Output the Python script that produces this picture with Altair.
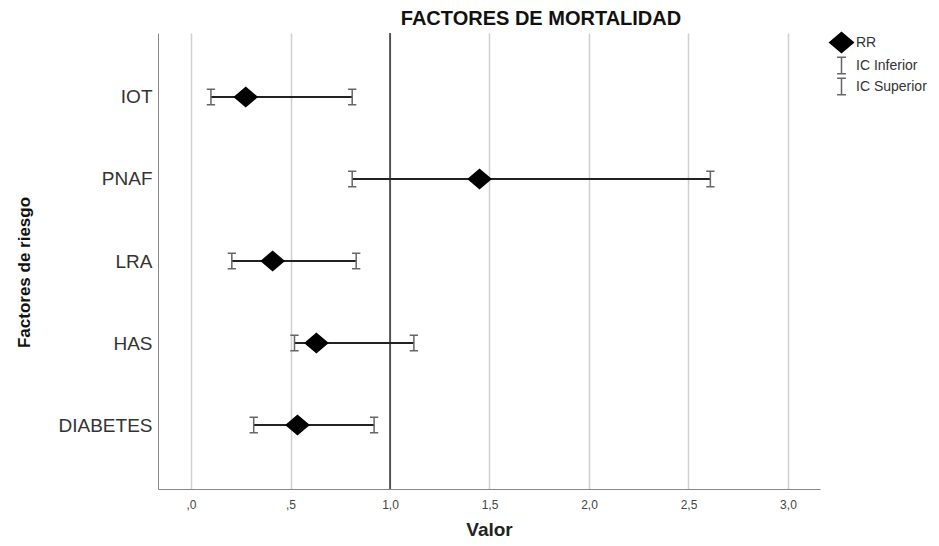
import altair as alt
import pandas as pd

# ---- data ----
factores = ["IOT", "PNAF", "LRA", "HAS", "DIABETES"]
rr = [0.275, 1.45, 0.41, 0.63, 0.535]
ic_inferior = [0.10, 0.81, 0.205, 0.52, 0.315]
ic_superior = [0.81, 2.61, 0.83, 1.12, 0.92]
series = ["RR", "IC Inferior", "IC Superior"]
x_ticks = [0, 0.5, 1.0, 1.5, 2.0, 2.5, 3.0]
ref_value = [1.0]

wide = pd.DataFrame({"factor": factores, "lo": ic_inferior, "hi": ic_superior})
rows = []
for f, a, b, c in zip(factores, ic_inferior, ic_superior, rr):
    rows.append({"factor": f, "serie": "IC Inferior", "valor": a})
    rows.append({"factor": f, "serie": "IC Superior", "valor": b})
    rows.append({"factor": f, "serie": "RR", "valor": c})
long = pd.DataFrame(rows)
ref = pd.DataFrame({"v": ref_value})

DIAMOND = "M-1.35,0L0,-1.15L1.35,0L0,1.15Z"
IBEAM = "M-0.5,-0.94L0.5,-0.94M0,-0.94L0,0.94M-0.5,0.94L0.5,0.94"

x_scale = alt.Scale(domain=[-0.166, 3.161], nice=False, zero=False)
x_axis = alt.Axis(
    values=x_ticks,
    labelExpr="datum.value < 1 ? ',' + substring(format(datum.value, '.1f'), 2) : replace(format(datum.value, '.1f'), '.', ',')",
    ticks=False,
    domainColor="#888888",
    gridColor="#d0d0d0",
    gridWidth=1.5,
    labelFontSize=12,
    labelColor="#444444",
    labelPadding=10,
    titleFontSize=19,
    titleFontWeight="bold",
    titleColor="#222222",
    titlePadding=10,
)
y_enc = alt.Y(
    "factor:N",
    sort=factores,
    scale=alt.Scale(type="point", domain=factores, padding=0.78),
    axis=alt.Axis(
        title="Factores de riesgo",
        ticks=False,
        grid=False,
        domainColor="#888888",
        labelFontSize=19,
        labelColor="#333333",
        labelPadding=6,
        titleFont="Liberation Sans",
        titleFontSize=17,
        titleFontWeight="bold",
        titleColor="#111111",
        titleX=-125,
        titleY=239,
    ),
)

legend = alt.Legend(title=None, symbolSize=306, rowPadding=-8.5)

ref_rule = alt.Chart(ref).mark_rule(color="black", strokeWidth=1.2).encode(
    x=alt.X("v:Q", scale=x_scale, axis=x_axis, title="Valor")
)

ci_rule = alt.Chart(wide).mark_rule(color="#222222", strokeWidth=2).encode(
    x=alt.X("lo:Q", scale=x_scale, axis=x_axis, title="Valor"),
    x2="hi:Q",
    y=y_enc,
)

points = alt.Chart(long).mark_point(opacity=1, strokeWidth=1.5, size=276).encode(
    x=alt.X("valor:Q", scale=x_scale, axis=x_axis, title="Valor"),
    y=y_enc,
    shape=alt.Shape("serie:N", scale=alt.Scale(domain=series, range=[DIAMOND, IBEAM, IBEAM]),
                    legend=legend),
    fill=alt.Fill("serie:N", scale=alt.Scale(domain=series, range=["black", "transparent", "transparent"]),
                  legend=legend),
    stroke=alt.Stroke("serie:N", scale=alt.Scale(domain=series, range=["black", "#666666", "#666666"]),
                      legend=legend),
)

chart = (
    alt.layer(ref_rule, ci_rule, points)
    .properties(
        width=662,
        height=456,
        autosize=alt.AutoSizeParams(type="none"),
        padding={"left": 150, "top": 25, "right": 111, "bottom": 49},
        title=alt.TitleParams(
            "FACTORES DE MORTALIDAD",
            fontSize=20,
            fontWeight="bold",
            font="Liberation Sans",
            color="#111111",
            anchor="middle",
            dx=52,
            offset=3,
        ),
    )
    .configure(font="Liberation Sans")
    .configure_view(stroke=None)
    .configure_legend(
        orient="right",
        offset=12,
        padding=0,
        symbolStrokeWidth=1.5,
        labelFontSize=14,
        labelColor="#333333",
        labelOffset=5,
    )
)

chart.save("out.html", embed_options={"renderer": "svg", "actions": False})
